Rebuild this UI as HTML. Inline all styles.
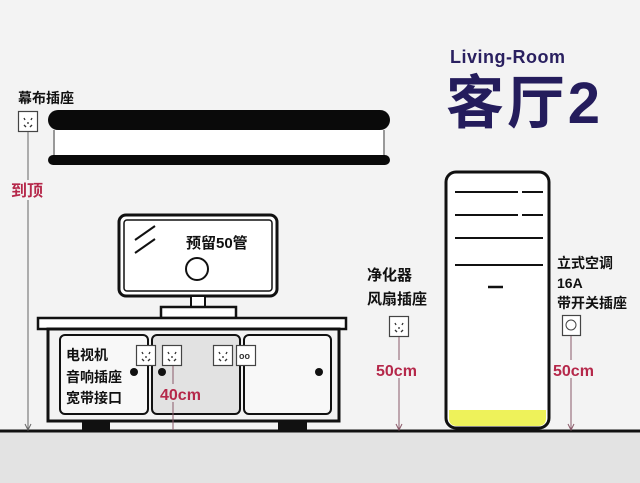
<!DOCTYPE html>
<html><head><meta charset="utf-8"><style>
html,body{margin:0;padding:0;background:#f3f3f3}
svg{display:block}
text{font-family:"Liberation Sans","Noto Sans CJK SC",sans-serif;font-weight:bold}
</style></head><body>
<svg width="640" height="483" viewBox="0 0 640 483" xmlns="http://www.w3.org/2000/svg">
<defs>
<g id="sock">
<rect x="0.5" y="0.5" width="19" height="20" fill="#fff" stroke="#444" stroke-width="1.2"/>
<line x1="6" y1="7" x2="7" y2="9" stroke="#333" stroke-width="1.3"/>
<line x1="14" y1="7" x2="13" y2="9" stroke="#333" stroke-width="1.3"/>
<line x1="6" y1="14" x2="8" y2="16" stroke="#333" stroke-width="1.3"/>
<line x1="14" y1="14" x2="12" y2="16" stroke="#333" stroke-width="1.3"/>
<line x1="10" y1="11" x2="10" y2="13" stroke="#333" stroke-width="1.3"/>
</g>
</defs>
<rect x="0" y="431" width="640" height="52" fill="#e3e3e3"/>
<line x1="0" y1="431" x2="640" y2="431" stroke="#111" stroke-width="3"/>

<!-- title -->
<text x="450" y="63" font-size="18" fill="#2a2060" textLength="115">Living-Room</text>
<text x="446" y="123" font-size="58" fill="#241c5c" textLength="154">客厅2</text>

<!-- curtain socket -->
<text x="18" y="103" font-size="14" fill="#111">幕布插座</text>
<use href="#sock" x="18" y="111"/>
<line x1="28" y1="132" x2="28" y2="429" stroke="#666" stroke-width="1"/>
<path d="M25,424 L28,430 L31,424" fill="none" stroke="#666"/>
<rect x="10" y="180" width="38" height="20" fill="#f3f3f3"/>
<text x="11" y="196" font-size="16" fill="#b5284a">到顶</text>

<!-- projector screen -->
<rect x="48" y="110" width="342" height="20" rx="10" fill="#0a0a0a"/>
<rect x="53" y="130" width="332" height="25" fill="#fff"/>
<line x1="54" y1="130" x2="54" y2="156" stroke="#333"/>
<line x1="384" y1="130" x2="384" y2="156" stroke="#333"/>
<rect x="48" y="155" width="342" height="10" rx="5" fill="#0a0a0a"/>

<!-- TV -->
<rect x="119" y="215" width="158" height="81" rx="7" fill="#fff" stroke="#111" stroke-width="3"/>
<rect x="124" y="220" width="148" height="71" rx="3" fill="none" stroke="#111" stroke-width="1.5"/>
<line x1="135" y1="240" x2="155" y2="226" stroke="#111" stroke-width="2"/>
<line x1="135" y1="253" x2="155" y2="239" stroke="#111" stroke-width="2"/>
<text x="186" y="248" font-size="15" fill="#111">预留50管</text>
<circle cx="197" cy="269" r="11" fill="#fff" stroke="#111" stroke-width="2"/>
<rect x="191" y="296" width="14" height="12" fill="#fff" stroke="#111" stroke-width="2"/>
<rect x="161" y="307" width="75" height="11" fill="#fff" stroke="#111" stroke-width="2.5"/>

<!-- cabinet -->
<rect x="38" y="318" width="308" height="11" fill="#fff" stroke="#111" stroke-width="2.5"/>
<rect x="48" y="329" width="291" height="92" fill="#f3f3f3" stroke="#111" stroke-width="3"/>
<rect x="60" y="335" width="88" height="79" rx="5" fill="#f8f8f8" stroke="#111" stroke-width="2"/>
<rect x="152" y="335" width="88" height="79" rx="5" fill="#e2e2e2" stroke="#111" stroke-width="2"/>
<rect x="244" y="335" width="87" height="79" rx="5" fill="#f8f8f8" stroke="#111" stroke-width="2"/>
<rect x="82" y="420" width="28" height="11" fill="#111"/>
<rect x="278" y="420" width="29" height="11" fill="#111"/>
<text x="66" y="360" font-size="14" fill="#111">电视机</text>
<text x="66" y="382" font-size="14" fill="#111">音响插座</text>
<text x="66" y="403" font-size="14" fill="#111">宽带接口</text>
<use href="#sock" x="136" y="345"/>
<use href="#sock" x="162" y="345"/>
<use href="#sock" x="213" y="345"/>
<rect x="236.5" y="345.5" width="19" height="20" fill="#fff" stroke="#444" stroke-width="1.2"/>
<text x="239" y="359" font-size="9" fill="#333">oo</text>
<circle cx="134" cy="372" r="4" fill="#111"/>
<circle cx="162" cy="372" r="4" fill="#111"/>
<circle cx="319" cy="372" r="4" fill="#111"/>
<line x1="173" y1="366" x2="173" y2="430" stroke="#8a5a6a" stroke-width="1"/>
<rect x="158" y="384" width="54" height="18" fill="#e2e2e2"/>
<text x="160" y="400" font-size="16" fill="#b5284a" font-weight="normal">40cm</text>

<!-- purifier -->
<text x="367" y="280" font-size="15" fill="#111">净化器</text>
<text x="367" y="304" font-size="15" fill="#111">风扇插座</text>
<use href="#sock" x="389" y="316"/>
<line x1="399" y1="337" x2="399" y2="429" stroke="#8a5a6a"/>
<path d="M396,424 L399,430 L402,424" fill="none" stroke="#8a5a6a"/>
<rect x="375" y="360" width="52" height="18" fill="#f3f3f3"/>
<text x="376" y="376" font-size="16" fill="#b5284a" font-weight="normal">50cm</text>

<!-- AC -->
<rect x="446" y="172" width="103" height="256" rx="10" fill="#fff" stroke="#111" stroke-width="3"/>
<path d="M449,410 H546 V418 Q546,426 538,426 H457 Q449,426 449,418 Z" fill="#eef25a"/>
<line x1="455" y1="192" x2="518" y2="192" stroke="#111" stroke-width="2"/>
<line x1="522" y1="192" x2="543" y2="192" stroke="#111" stroke-width="2"/>
<line x1="455" y1="215" x2="518" y2="215" stroke="#111" stroke-width="2"/>
<line x1="522" y1="215" x2="543" y2="215" stroke="#111" stroke-width="2"/>
<line x1="455" y1="238" x2="543" y2="238" stroke="#111" stroke-width="2"/>
<line x1="455" y1="265" x2="543" y2="265" stroke="#111" stroke-width="2"/>
<line x1="488" y1="287" x2="503" y2="287" stroke="#111" stroke-width="2.5"/>

<text x="557" y="268" font-size="14" fill="#111">立式空调</text>
<text x="557" y="288" font-size="14" fill="#111">16A</text>
<text x="557" y="308" font-size="14" fill="#111">带开关插座</text>
<rect x="562.5" y="315.5" width="18" height="20" fill="#fff" stroke="#444" stroke-width="1.2"/>
<circle cx="571" cy="325" r="5" fill="none" stroke="#444"/>
<line x1="571" y1="336" x2="571" y2="429" stroke="#8a5a6a"/>
<path d="M568,424 L571,430 L574,424" fill="none" stroke="#8a5a6a"/>
<rect x="552" y="360" width="52" height="18" fill="#f3f3f3"/>
<text x="553" y="376" font-size="16" fill="#b5284a" font-weight="normal">50cm</text>
</svg>
</body></html>
